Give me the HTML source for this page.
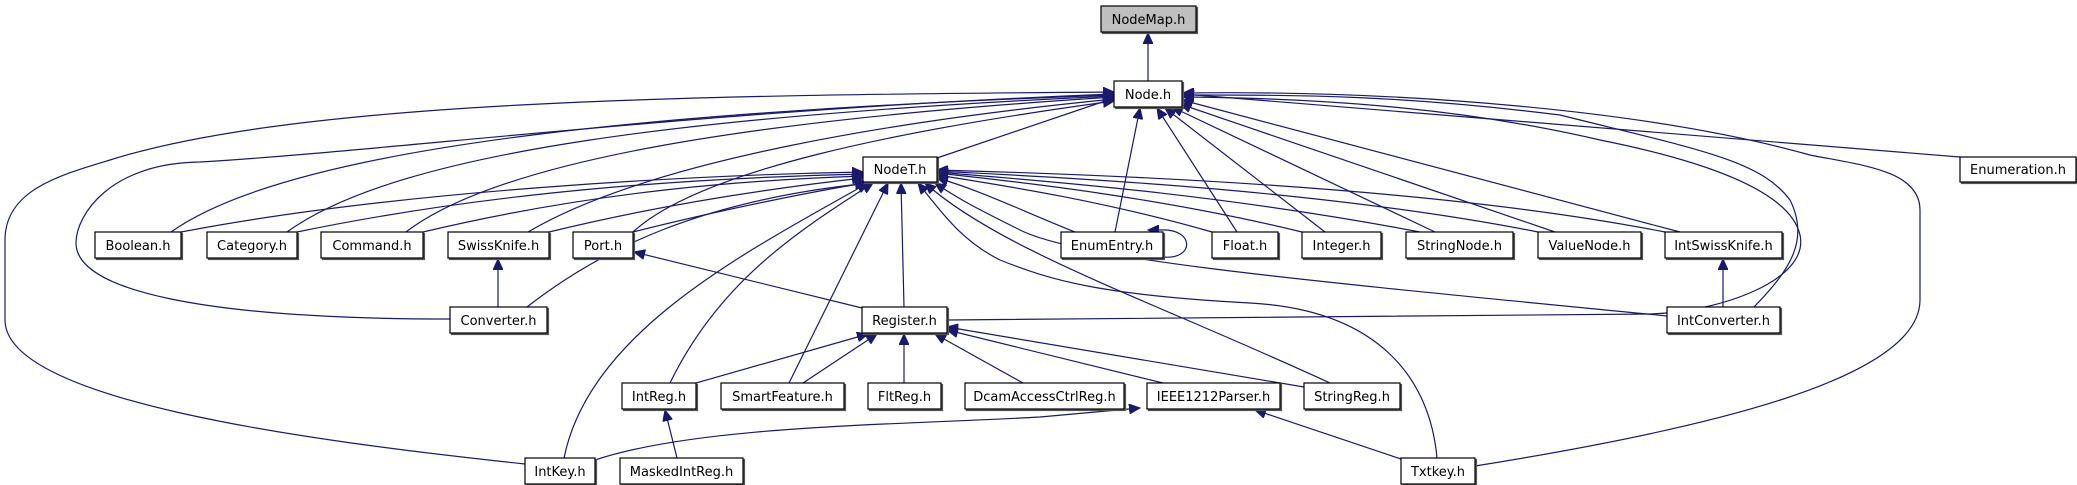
<!DOCTYPE html>
<html><head><meta charset="utf-8"><style>
html,body{margin:0;padding:0;background:#fff;width:2077px;height:485px;overflow:hidden}
svg{display:block}
text{font-family:"DejaVu Sans","Liberation Sans",sans-serif;font-size:13px;fill:#000}
rect.n{fill:#fff;stroke:#000;stroke-width:1.2}
path{fill:none;stroke:#191970;stroke-width:1.2}
</style></head><body>
<svg width="2077" height="485" viewBox="0 0 2077 485" xmlns="http://www.w3.org/2000/svg">
<defs>
<marker id="a" markerWidth="12" markerHeight="10" refX="11" refY="5" orient="auto" markerUnits="userSpaceOnUse">
<path d="M0,0 L11,5 L0,10 Z" style="fill:#191970;stroke:#191970;stroke-width:1"/>
</marker>
<filter id="s" x="-5%" y="-5%" width="115%" height="130%"><feDropShadow dx="1.5" dy="1.5" stdDeviation="0.3" flood-color="#555"/></filter>
</defs>
<g marker-end="url(#a)">
<path d="M1148,81 L1148,33"/>
<path d="M937,158 L1114,98"/>
<path d="M171,232 C300,140 700,110 1114,95"/>
<path d="M287,232 C400,150 700,115 1114,96"/>
<path d="M406,232 C500,160 750,120 1114,97"/>
<path d="M528,232 C650,160 900,120 1114,99"/>
<path d="M633,232 C700,170 900,130 1114,101"/>
<path d="M450,319 C200,319 76,290 76,243 C76,215 110,163 200,162 C400,150 700,110 1114,94"/>
<path d="M525,464 C300,440 5,400 5,320 L5,240 C5,190 60,175 110,160 C300,100 700,95 1114,92"/>
<path d="M1115,232 L1140,108"/>
<path d="M1237,232 L1157,108"/>
<path d="M1325,232 L1165,108"/>
<path d="M1435,232 L1172,107"/>
<path d="M1555,232 L1180,104"/>
<path d="M1680,232 L1182,100"/>
<path d="M1960,157 L1183,94"/>
<path d="M947,320 L1650,314 C1720,312 1810,280 1800,235 C1790,190 1700,160 1600,140 C1450,105 1300,98 1183,97"/>
<path d="M1754,307 C1790,270 1810,240 1790,200 C1760,160 1700,150 1560,115 C1400,95 1300,95 1183,95"/>
<path d="M1475,466 C1700,430 1920,380 1920,300 L1920,210 C1920,170 1860,165 1810,155 C1650,110 1400,90 1183,93"/>
<path d="M181,232 C400,190 700,175 863,172"/>
<path d="M297,232 C500,190 700,178 863,174"/>
<path d="M423,232 C600,190 750,180 863,176"/>
<path d="M549,232 C680,200 800,185 863,178"/>
<path d="M633,232 C720,210 820,190 866,183"/>
<path d="M527,307 C600,250 700,200 870,183"/>
<path d="M670,383 C720,280 800,230 873,183"/>
<path d="M564,458 C590,330 750,250 868,183"/>
<path d="M789,383 L888,183"/>
<path d="M904,307 L901,183"/>
<path d="M1437,458 C1430,380 1380,310 1250,303 C1100,295 1050,280 1000,260 C960,240 940,210 918,183"/>
<path d="M1330,383 C1150,300 1000,250 925,183"/>
<path d="M1667,316 C1300,280 1080,260 1020,230 C980,210 960,200 935,183"/>
<path d="M1075,232 C1020,210 980,190 937,178"/>
<path d="M1212,232 C1100,200 1000,185 937,175"/>
<path d="M1302,232 C1150,195 1000,180 937,173"/>
<path d="M1420,232 C1200,190 1000,178 937,172"/>
<path d="M1538,232 C1300,185 1000,175 937,171"/>
<path d="M1665,232 C1400,180 1000,172 937,170"/>
<path d="M1163,257 C1195,260 1195,228 1160,230 L1148,230"/>
<path d="M696,383 L868,334"/>
<path d="M803,383 L877,334"/>
<path d="M904,383 L904,334"/>
<path d="M1023,383 L935,334"/>
<path d="M1163,383 L947,330"/>
<path d="M1304,387 L947,327"/>
<path d="M862,308 L634,252"/>
<path d="M498,307 L498,259"/>
<path d="M1723,307 L1723,259"/>
<path d="M677,458 L665,410"/>
<path d="M595,460 C700,425 900,425 1040,417 L1140,408"/>
<path d="M1401,459 L1255,410"/>
</g>
<g filter="url(#s)">
<rect class="n" x="1101" y="6" width="95" height="26" style="fill:#bfbfbf"/>
<rect class="n" x="1114" y="81" width="68" height="26"/>
<rect class="n" x="863" y="157" width="74" height="25"/>
<rect class="n" x="1960" y="157" width="116" height="25"/>
<rect class="n" x="95" y="232" width="86" height="26"/>
<rect class="n" x="207" y="232" width="90" height="26"/>
<rect class="n" x="321" y="232" width="102" height="26"/>
<rect class="n" x="448" y="232" width="101" height="26"/>
<rect class="n" x="573" y="232" width="60" height="26"/>
<rect class="n" x="1061" y="232" width="102" height="26"/>
<rect class="n" x="1212" y="232" width="66" height="26"/>
<rect class="n" x="1302" y="232" width="79" height="26"/>
<rect class="n" x="1406" y="232" width="107" height="26"/>
<rect class="n" x="1538" y="232" width="103" height="26"/>
<rect class="n" x="1665" y="232" width="117" height="26"/>
<rect class="n" x="450" y="307" width="97" height="26"/>
<rect class="n" x="862" y="307" width="85" height="26"/>
<rect class="n" x="1667" y="307" width="113" height="26"/>
<rect class="n" x="622" y="383" width="74" height="26"/>
<rect class="n" x="721" y="383" width="123" height="26"/>
<rect class="n" x="868" y="383" width="73" height="26"/>
<rect class="n" x="965" y="383" width="159" height="26"/>
<rect class="n" x="1147" y="383" width="133" height="26"/>
<rect class="n" x="1304" y="383" width="96" height="26"/>
<rect class="n" x="525" y="458" width="70" height="26"/>
<rect class="n" x="620" y="458" width="123" height="26"/>
<rect class="n" x="1401" y="458" width="74" height="26"/>
</g>
<g text-anchor="middle">
<text x="1148.5" y="24">NodeMap.h</text>
<text x="1148" y="99">Node.h</text>
<text x="900" y="174">NodeT.h</text>
<text x="2018" y="174">Enumeration.h</text>
<text x="138" y="250">Boolean.h</text>
<text x="252" y="250">Category.h</text>
<text x="372" y="250">Command.h</text>
<text x="498.5" y="250">SwissKnife.h</text>
<text x="603" y="250">Port.h</text>
<text x="1112" y="250">EnumEntry.h</text>
<text x="1245" y="250">Float.h</text>
<text x="1341.5" y="250">Integer.h</text>
<text x="1459.5" y="250">StringNode.h</text>
<text x="1589.5" y="250">ValueNode.h</text>
<text x="1723.5" y="250">IntSwissKnife.h</text>
<text x="498.5" y="325">Converter.h</text>
<text x="904.5" y="325">Register.h</text>
<text x="1723.5" y="325">IntConverter.h</text>
<text x="659" y="401">IntReg.h</text>
<text x="782.5" y="401">SmartFeature.h</text>
<text x="904.5" y="401">FltReg.h</text>
<text x="1044.5" y="401">DcamAccessCtrlReg.h</text>
<text x="1213.5" y="401">IEEE1212Parser.h</text>
<text x="1352" y="401">StringReg.h</text>
<text x="560" y="476">IntKey.h</text>
<text x="681.5" y="476">MaskedIntReg.h</text>
<text x="1438" y="476">Txtkey.h</text>
</g>
</svg>
</body></html>
